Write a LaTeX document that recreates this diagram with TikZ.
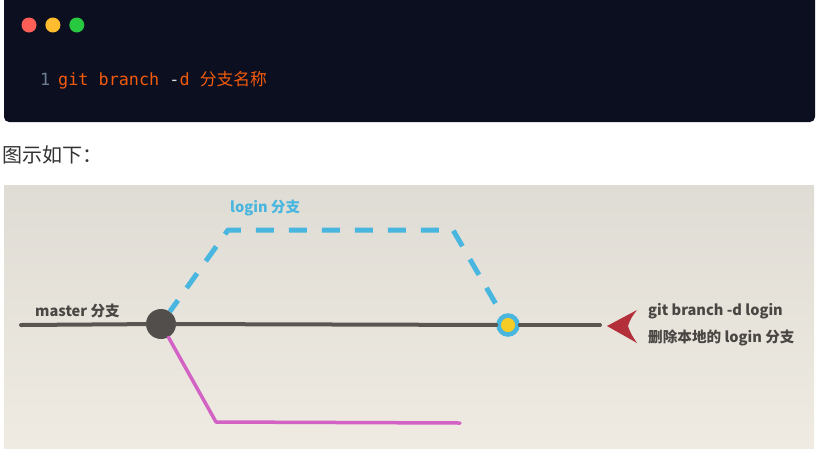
\documentclass[tikz,border=0pt]{standalone}
\usepackage{fontspec}
\newfontfamily\cjk{Noto Sans CJK SC}
\newfontfamily\mono{DejaVu Sans Mono}
\usetikzlibrary{positioning}
\definecolor{codebg}{HTML}{0C0F20}
\definecolor{macred}{HTML}{FF5F57}
\definecolor{macyellow}{HTML}{FEBC2E}
\definecolor{macgreen}{HTML}{28C840}
\definecolor{codeorange}{HTML}{F25A0C}
\definecolor{codenum}{HTML}{6F7D92}
\definecolor{captiongray}{HTML}{333333}
\definecolor{bgtop}{HTML}{DFDCD5}
\definecolor{bgbottom}{HTML}{EFEBE2}
\definecolor{mastergray}{HTML}{5A5551}
\definecolor{commitgray}{HTML}{524E4B}
\definecolor{loginblue}{HTML}{48B6DE}
\definecolor{devpink}{HTML}{D262C4}
\definecolor{deleteyellow}{HTML}{F5CB26}
\definecolor{arrowred}{HTML}{B3303B}
\definecolor{textgray}{HTML}{4A4643}
\tikzset{
  macdot/.style     = {circle, inner sep=0pt, minimum size=15pt},
  codetext/.style   = {inner sep=0pt, anchor=base west, font=\mono\fontsize{16.8}{18}\selectfont},
  labeltext/.style  = {inner sep=0pt, anchor=base west, text=textgray,
                       font=\cjk\bfseries\fontsize{14.6}{16}\selectfont},
  masterline/.style = {line width=4pt, mastergray, line cap=round},
  loginline/.style  = {line width=5pt, loginblue, line join=round,
                       dash pattern=on 18pt off 15pt, dash phase=4pt},
  devline/.style    = {line width=3.5pt, devpink, line join=round, line cap=round},
}

\begin{document}
\begin{tikzpicture}[x=1pt,y=-1pt]
	\useasboundingbox (0,0) rectangle (821,453);
	\fill[white] (0,0) rectangle (821,453);
	\fill[codebg, rounded corners=5pt] (4,-10) rectangle (815,122);
	\node[macdot, fill=macred] (red) at (29,25) {};
	\node[macdot, fill=macyellow, right=8.5pt of red] (yellow) {};
	\node[macdot, fill=macgreen, right=8.5pt of yellow] (green) {};
	\node[codetext, text=codenum] (num) at (40,85) {1};
	\node[codetext, text=codeorange] (cmd) at (58,85)
	  {git branch \textcolor{white!85!codebg}{-}d {\cjk 分支名称}};
	\node[inner sep=0pt, anchor=base west, text=captiongray,
	      font=\cjk\fontsize{20}{22}\selectfont] (caption) at (2,162) {图示如下：};
	\shade[top color=bgtop, bottom color=bgbottom] (4,185) rectangle (814,448);
	\node[circle, inner sep=0pt, minimum size=30pt, fill=commitgray] (base) at (161,324) {};
	\node[circle, inner sep=0pt, minimum size=19pt, fill=deleteyellow,
	      draw=loginblue, line width=4.5pt] (del) at (508,325) {};
	\coordinate (mstart) at (21,325);
	\coordinate (mend) at (600,325);
	\coordinate (lup) at (228,230);
	\coordinate (ldown) at (453,230);
	\coordinate (pturn) at (216,422);
	\coordinate (pend) at (460,423);
	\coordinate (ptr) at (607,326);
	\draw[masterline] (mstart) -- (base);
	\draw[masterline] (base) -- (del);
	\draw[masterline] (del) -- (mend);
	\draw[loginline] (base) -- (lup) -- (ldown) -- (del);
	\draw[devline] (base) -- (pturn) -- (pend);
	\fill[arrowred] (ptr) -- ++(30,-16) .. controls ++(-6,8) .. ++(-9,16)
	  .. controls ++(3,8) .. ++(9,17) -- cycle;
	\node[labeltext, text=loginblue] (loginlabel) at (230,212) {login 分支};
	\node[labeltext] (masterlabel) at (35,316) {master 分支};
	\node[labeltext] (cmdlabel) at (648,315) {git branch -d login};
	\node[labeltext] (dellabel) at (648,342) {删除本地的 login 分支};
\end{tikzpicture}
\end{document}
